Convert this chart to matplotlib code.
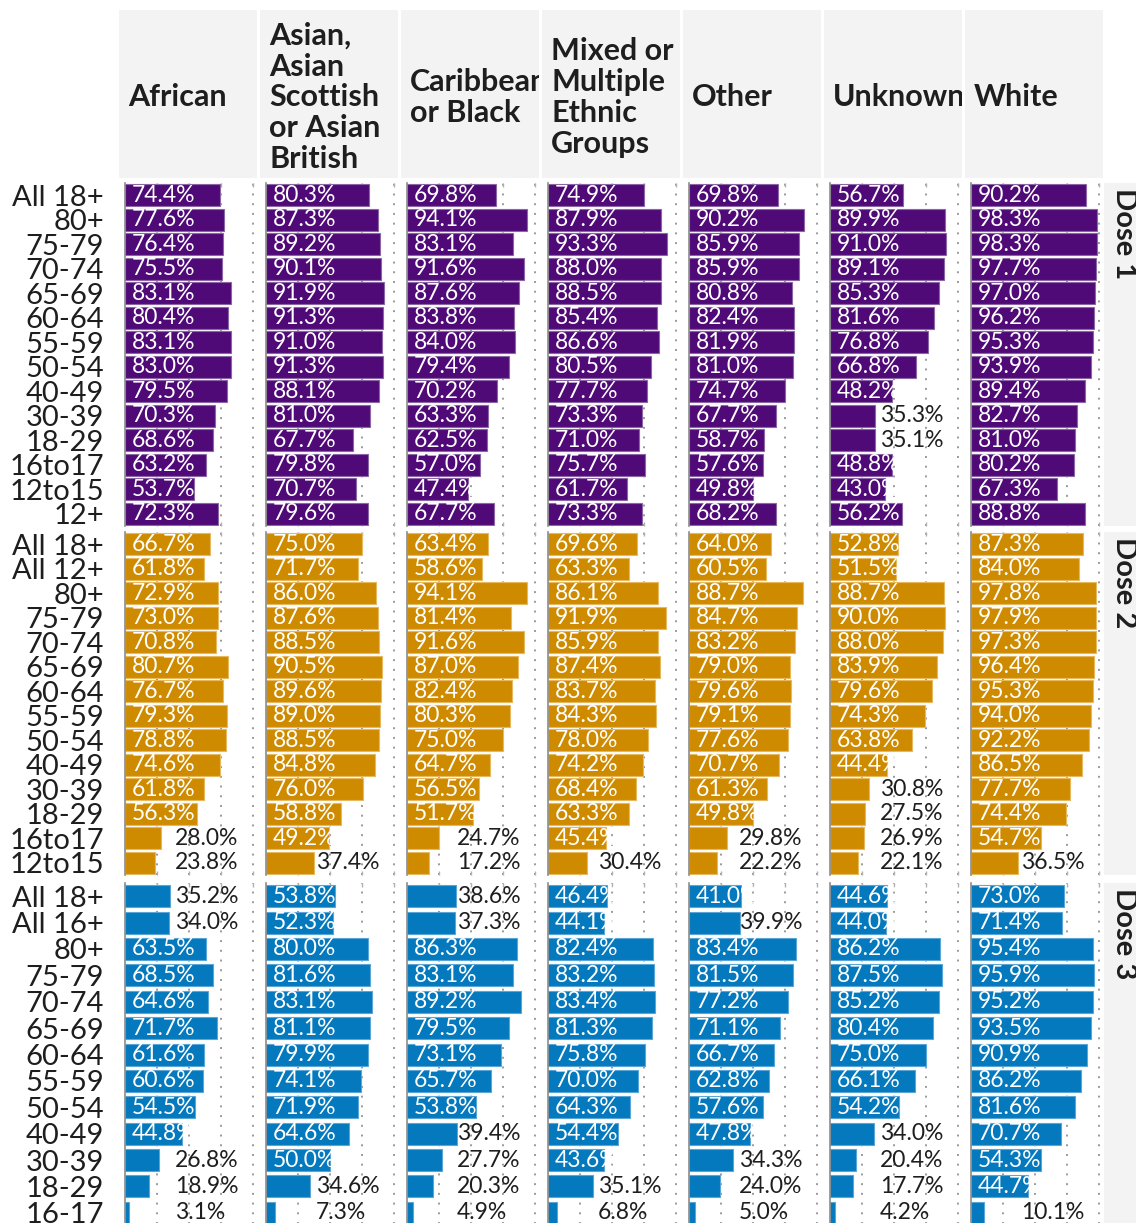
import matplotlib
matplotlib.use("Agg")
import matplotlib.pyplot as plt

W, H = 1136, 1223
FONT = ["Lato", "DejaVu Sans"]
plt.rcParams["font.family"] = FONT

PURPLE, ORANGE, BLUE = "#500a78", "#cf8b00", "#0479bd"
PURPLE_EDGE, ORANGE_EDGE, BLUE_EDGE = "#8a67a4", "#e6b860", "#5aa6d6"
INK = "#1e1e1e"
STRIP = "#f3f3f3"
GRID = "#9a9a9a"

groups = ["African", "Asian,\nAsian\nScottish\nor Asian\nBritish", "Caribbean\nor Black",
          "Mixed or\nMultiple\nEthnic\nGroups", "Other", "Unknown", "White"]

rows_d1 = ["All 18+", "80+", "75-79", "70-74", "65-69", "60-64", "55-59", "50-54",
           "40-49", "30-39", "18-29", "16to17", "12to15", "12+"]
rows_d2 = ["All 18+", "All 12+", "80+", "75-79", "70-74", "65-69", "60-64", "55-59",
           "50-54", "40-49", "30-39", "18-29", "16to17", "12to15"]
rows_d3 = ["All 18+", "All 16+", "80+", "75-79", "70-74", "65-69", "60-64", "55-59",
           "50-54", "40-49", "30-39", "18-29", "16-17"]

# Dose 1 uptake (%) by group
d1_african = [74.4, 77.6, 76.4, 75.5, 83.1, 80.4, 83.1, 83.0, 79.5, 70.3, 68.6, 63.2, 53.7, 72.3]
d1_asian = [80.3, 87.3, 89.2, 90.1, 91.9, 91.3, 91.0, 91.3, 88.1, 81.0, 67.7, 79.8, 70.7, 79.6]
d1_caribbean = [69.8, 94.1, 83.1, 91.6, 87.6, 83.8, 84.0, 79.4, 70.2, 63.3, 62.5, 57.0, 47.4, 67.7]
d1_mixed = [74.9, 87.9, 93.3, 88.0, 88.5, 85.4, 86.6, 80.5, 77.7, 73.3, 71.0, 75.7, 61.7, 73.3]
d1_other = [69.8, 90.2, 85.9, 85.9, 80.8, 82.4, 81.9, 81.0, 74.7, 67.7, 58.7, 57.6, 49.8, 68.2]
d1_unknown = [56.7, 89.9, 91.0, 89.1, 85.3, 81.6, 76.8, 66.8, 48.2, 35.3, 35.1, 48.8, 43.0, 56.2]
d1_white = [90.2, 98.3, 98.3, 97.7, 97.0, 96.2, 95.3, 93.9, 89.4, 82.7, 81.0, 80.2, 67.3, 88.8]

# Dose 2
d2_african = [66.7, 61.8, 72.9, 73.0, 70.8, 80.7, 76.7, 79.3, 78.8, 74.6, 61.8, 56.3, 28.0, 23.8]
d2_asian = [75.0, 71.7, 86.0, 87.6, 88.5, 90.5, 89.6, 89.0, 88.5, 84.8, 76.0, 58.8, 49.2, 37.4]
d2_caribbean = [63.4, 58.6, 94.1, 81.4, 91.6, 87.0, 82.4, 80.3, 75.0, 64.7, 56.5, 51.7, 24.7, 17.2]
d2_mixed = [69.6, 63.3, 86.1, 91.9, 85.9, 87.4, 83.7, 84.3, 78.0, 74.2, 68.4, 63.3, 45.4, 30.4]
d2_other = [64.0, 60.5, 88.7, 84.7, 83.2, 79.0, 79.6, 79.1, 77.6, 70.7, 61.3, 49.8, 29.8, 22.2]
d2_unknown = [52.8, 51.5, 88.7, 90.0, 88.0, 83.9, 79.6, 74.3, 63.8, 44.4, 30.8, 27.5, 26.9, 22.1]
d2_white = [87.3, 84.0, 97.8, 97.9, 97.3, 96.4, 95.3, 94.0, 92.2, 86.5, 77.7, 74.4, 54.7, 36.5]

# Dose 3
d3_african = [35.2, 34.0, 63.5, 68.5, 64.6, 71.7, 61.6, 60.6, 54.5, 44.8, 26.8, 18.9, 3.1]
d3_asian = [53.8, 52.3, 80.0, 81.6, 83.1, 81.1, 79.9, 74.1, 71.9, 64.6, 50.0, 34.6, 7.3]
d3_caribbean = [38.6, 37.3, 86.3, 83.1, 89.2, 79.5, 73.1, 65.7, 53.8, 39.4, 27.7, 20.3, 4.9]
d3_mixed = [46.4, 44.1, 82.4, 83.2, 83.4, 81.3, 75.8, 70.0, 64.3, 54.4, 43.6, 35.1, 6.8]
d3_other = [41.0, 39.9, 83.4, 81.5, 77.2, 71.1, 66.7, 62.8, 57.6, 47.8, 34.3, 24.0, 5.0]
d3_unknown = [44.6, 44.0, 86.2, 87.5, 85.2, 80.4, 75.0, 66.1, 54.2, 34.0, 20.4, 17.7, 4.2]
d3_white = [73.0, 71.4, 95.4, 95.9, 95.2, 93.5, 90.9, 86.2, 81.6, 70.7, 54.3, 44.7, 10.1]

panels = [
    ("Dose 1", rows_d1, [d1_african, d1_asian, d1_caribbean, d1_mixed, d1_other, d1_unknown, d1_white],
     PURPLE, PURPLE_EDGE),
    ("Dose 2", rows_d2, [d2_african, d2_asian, d2_caribbean, d2_mixed, d2_other, d2_unknown, d2_white],
     ORANGE, ORANGE_EDGE),
    ("Dose 3", rows_d3, [d3_african, d3_asian, d3_caribbean, d3_mixed, d3_other, d3_unknown, d3_white],
     BLUE, BLUE_EDGE),
]


def box(x, y, w, h):
    """pixel box (top-left origin) -> figure fraction rect"""
    return [x / W, 1 - (y + h) / H, w / W, h / H]


fig = plt.figure(figsize=(W / 100, H / 100), dpi=100, facecolor="white")

CELL0, PITCH, CELLW = 119, 141, 138
AX_PAD, AX_W = 6, 132
XMAX = AX_W / 128 * 100
PANEL_TOP = [183, 532, 883]
PANEL_H = 343

# column headers
for i, g in enumerate(groups):
    hx = fig.add_axes(box(CELL0 + PITCH * i, 10, CELLW, 168))
    hx.set_facecolor(STRIP)
    hx.set_xticks([])
    hx.set_yticks([])
    for s in hx.spines.values():
        s.set_visible(False)
    hx.text(9 / CELLW, 0.48, g, transform=hx.transAxes, ha="left", va="center",
            fontsize=22, fontweight="bold", color=INK, linespacing=1.12, clip_on=True)

for p, (title, rows, series, color, edge) in enumerate(panels):
    top = PANEL_TOP[p]
    n = len(rows)
    pitch = PANEL_H / n
    bh = 22 / pitch

    # dose strip on the right
    sx = fig.add_axes(box(1104, top, 40, PANEL_H))
    sx.set_facecolor(STRIP)
    sx.set_xticks([])
    sx.set_yticks([])
    for s in sx.spines.values():
        s.set_visible(False)
    sx.text(0.5, 1 - 5 / PANEL_H, title, transform=sx.transAxes, rotation=-90,
            ha="center", va="top", fontsize=21, fontweight="bold", color=INK)

    for i, vals in enumerate(series):
        ax = fig.add_axes(box(CELL0 + PITCH * i + AX_PAD, top, AX_W, PANEL_H))
        ax.set_xlim(0, XMAX)
        ax.set_ylim(n - 0.5, -0.5)
        ax.set_xticks([25, 50, 75, 100])
        ax.tick_params(axis="x", direction="in", length=3, width=1, color="#b0b0b0",
                       top=True, bottom=True, labelbottom=False, labeltop=False)
        ax.grid(axis="x", color=GRID, linestyle=(0, (1, 4)), linewidth=1.4)
        ax.set_axisbelow(True)
        for s in ("top", "right", "bottom"):
            ax.spines[s].set_visible(False)
        ax.spines["left"].set_color("#8c8c8c")
        ax.spines["left"].set_linewidth(1.2)

        if i == 0:
            ax.set_yticks(range(n))
            ax.set_yticklabels(rows, fontsize=21, color=INK)
            ax.tick_params(axis="y", length=0, pad=15)
        else:
            ax.set_yticks([])

        bars = ax.barh(range(n), vals, height=bh, color=color, edgecolor=edge, linewidth=0.8)
        for y, (v, bar) in enumerate(zip(vals, bars)):
            lab = f"{v:.1f}%"
            if v >= 40:
                t = ax.text(5.2, y, lab, ha="left", va="center", fontsize=16.5, color="white")
                t.set_clip_path(bar)
            else:
                ax.text(39, y, lab, ha="left", va="center", fontsize=16.5, color=INK)

fig.savefig("out.png", dpi=100, facecolor="white")
